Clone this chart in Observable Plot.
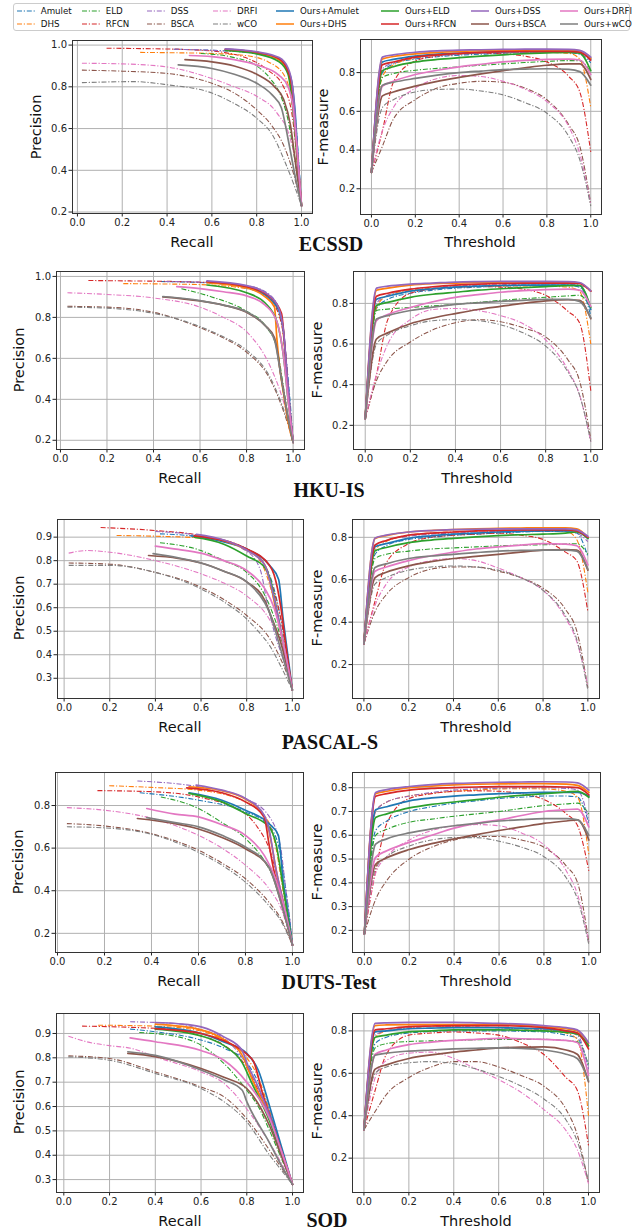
<!DOCTYPE html>
<html><head><meta charset="utf-8">
<script src="https://cdn.jsdelivr.net/npm/d3@7"></script>
<script src="https://cdn.jsdelivr.net/npm/@observablehq/plot@0.6"></script>
<style>
body{margin:0;background:#fff;}
#fig{position:relative;width:635px;height:1230px;overflow:hidden;font-family:"DejaVu Sans",sans-serif;background:#fff;}
.lab{position:absolute;font-size:14.5px;color:#111;white-space:nowrap;transform:translate(-50%,-50%);line-height:1;}
.rot{transform:translate(-50%,-50%) rotate(-90deg);}
.title{position:absolute;font-family:"Liberation Serif","Times New Roman",serif;font-weight:bold;font-size:20px;color:#111;transform:translate(-50%,-50%);white-space:nowrap;line-height:1;}
.legend{position:absolute;left:13px;top:3px;width:617px;height:28px;border:1px solid #ccc;border-radius:3px;box-sizing:border-box;}
.lg{position:absolute;font-size:8.7px;color:#111;white-space:nowrap;line-height:1;transform:translateY(-50%);}
</style></head><body><div id="fig"></div>
<script>
// ---------- data ----------
const methods = ["Amulet","DHS","ELD","RFCN","DSS","BSCA","DRFI","wCO"];
const colors = ["#1f77b4","#ff7f0e","#2ca02c","#d62728","#9467bd","#8c564b","#e377c2","#7f7f7f"];
const datasets = ["ECSSD","HKU-IS","PASCAL-S","DUTS-Test","SOD"];
const thresholds = [0,0.05,0.1,0.2,0.3,0.4,0.5,0.6,0.7,0.8,0.9,0.95,1];
const xTicks = [0,0.2,0.4,0.6,0.8,1.0];
const prYTicks = [[0.2,0.4,0.6,0.8,1.0],[0.2,0.4,0.6,0.8,1.0],[0.3,0.4,0.5,0.6,0.7,0.8,0.9],[0.2,0.4,0.6,0.8],[0.3,0.4,0.5,0.6,0.7,0.8,0.9]];
const fYTicks = [[0.2,0.4,0.6,0.8],[0.2,0.4,0.6,0.8],[0.2,0.4,0.6,0.8],[0.2,0.3,0.4,0.5,0.6,0.7,0.8],[0.2,0.4,0.6,0.8]];

// F-measure vs threshold (values at `thresholds`)
const F_ECSSD = {
 "Amulet":[0.285,0.80,0.845,0.87,0.882,0.89,0.895,0.90,0.903,0.905,0.903,0.895,0.85],
 "DHS":[0.285,0.78,0.84,0.875,0.89,0.897,0.902,0.905,0.906,0.905,0.9,0.87,0.62],
 "ELD":[0.285,0.775,0.795,0.812,0.822,0.83,0.838,0.845,0.852,0.858,0.862,0.862,0.80],
 "RFCN":[0.285,0.50,0.75,0.86,0.885,0.895,0.90,0.897,0.885,0.855,0.78,0.70,0.39],
 "DSS":[0.285,0.82,0.85,0.877,0.888,0.895,0.9,0.903,0.905,0.906,0.905,0.9,0.86],
 "BSCA":[0.285,0.42,0.56,0.66,0.72,0.745,0.755,0.75,0.72,0.66,0.53,0.42,0.12],
 "DRFI":[0.285,0.50,0.62,0.72,0.77,0.785,0.78,0.755,0.715,0.65,0.52,0.38,0.12],
 "wCO":[0.285,0.62,0.66,0.70,0.713,0.715,0.705,0.685,0.645,0.59,0.47,0.35,0.11],
 "Ours+Amulet":[0.285,0.855,0.868,0.885,0.895,0.90,0.904,0.907,0.909,0.91,0.91,0.905,0.87],
 "Ours+DHS":[0.285,0.87,0.883,0.897,0.905,0.91,0.913,0.915,0.916,0.917,0.917,0.912,0.875],
 "Ours+ELD":[0.285,0.81,0.83,0.855,0.868,0.877,0.885,0.892,0.898,0.902,0.905,0.90,0.81],
 "Ours+RFCN":[0.285,0.84,0.855,0.88,0.892,0.90,0.905,0.908,0.91,0.91,0.91,0.905,0.865],
 "Ours+DSS":[0.285,0.88,0.892,0.905,0.912,0.916,0.918,0.92,0.921,0.921,0.92,0.915,0.88],
 "Ours+BSCA":[0.285,0.68,0.70,0.73,0.755,0.775,0.793,0.81,0.825,0.838,0.845,0.845,0.765],
 "Ours+DRFI":[0.285,0.73,0.755,0.79,0.812,0.83,0.843,0.855,0.863,0.868,0.87,0.865,0.79],
 "Ours+wCO":[0.285,0.735,0.75,0.77,0.787,0.80,0.808,0.815,0.818,0.82,0.817,0.805,0.735]
};
const F_HKUIS = {
 "Amulet":[0.233,0.775,0.82,0.85,0.865,0.875,0.88,0.885,0.888,0.89,0.888,0.88,0.74],
 "DHS":[0.233,0.78,0.84,0.865,0.875,0.88,0.883,0.885,0.886,0.885,0.88,0.86,0.60],
 "ELD":[0.233,0.765,0.772,0.78,0.788,0.795,0.805,0.815,0.823,0.83,0.837,0.84,0.78],
 "RFCN":[0.233,0.45,0.72,0.85,0.87,0.88,0.883,0.88,0.87,0.84,0.76,0.705,0.37],
 "DSS":[0.233,0.80,0.84,0.87,0.88,0.885,0.89,0.892,0.894,0.895,0.893,0.89,0.86],
 "BSCA":[0.233,0.42,0.52,0.61,0.67,0.705,0.72,0.71,0.68,0.635,0.52,0.42,0.13],
 "DRFI":[0.233,0.45,0.60,0.72,0.77,0.775,0.765,0.74,0.70,0.62,0.47,0.35,0.12],
 "wCO":[0.233,0.60,0.645,0.69,0.715,0.72,0.715,0.695,0.655,0.59,0.46,0.35,0.12],
 "Ours+Amulet":[0.233,0.82,0.835,0.86,0.872,0.88,0.885,0.888,0.89,0.89,0.89,0.888,0.77],
 "Ours+DHS":[0.233,0.865,0.875,0.89,0.897,0.90,0.903,0.905,0.906,0.906,0.905,0.90,0.86],
 "Ours+ELD":[0.233,0.79,0.805,0.83,0.845,0.855,0.865,0.872,0.878,0.883,0.887,0.888,0.78],
 "Ours+RFCN":[0.233,0.835,0.85,0.87,0.882,0.89,0.895,0.898,0.9,0.9,0.9,0.898,0.86],
 "Ours+DSS":[0.233,0.875,0.885,0.895,0.9,0.905,0.907,0.908,0.908,0.908,0.907,0.903,0.862],
 "Ours+BSCA":[0.233,0.625,0.655,0.70,0.728,0.75,0.77,0.785,0.80,0.812,0.818,0.815,0.725],
 "Ours+DRFI":[0.233,0.715,0.745,0.78,0.808,0.83,0.843,0.855,0.863,0.868,0.87,0.865,0.785],
 "Ours+wCO":[0.233,0.723,0.74,0.765,0.782,0.795,0.803,0.81,0.815,0.82,0.82,0.81,0.73]
};
const F_PASCAL = {
 "Amulet":[0.298,0.72,0.76,0.79,0.80,0.81,0.815,0.82,0.825,0.828,0.828,0.82,0.71],
 "DHS":[0.298,0.74,0.78,0.81,0.82,0.825,0.828,0.83,0.833,0.835,0.83,0.79,0.54],
 "ELD":[0.298,0.70,0.72,0.735,0.745,0.75,0.755,0.76,0.763,0.765,0.768,0.77,0.72],
 "RFCN":[0.298,0.50,0.68,0.77,0.80,0.81,0.815,0.82,0.81,0.79,0.73,0.69,0.45],
 "DSS":[0.298,0.76,0.785,0.805,0.815,0.82,0.825,0.828,0.83,0.83,0.828,0.82,0.78],
 "BSCA":[0.298,0.45,0.53,0.61,0.65,0.66,0.66,0.64,0.61,0.56,0.46,0.36,0.09],
 "DRFI":[0.298,0.48,0.58,0.66,0.69,0.70,0.69,0.655,0.61,0.55,0.42,0.31,0.10],
 "wCO":[0.298,0.58,0.61,0.645,0.66,0.665,0.66,0.645,0.61,0.55,0.43,0.32,0.08],
 "Ours+Amulet":[0.298,0.755,0.77,0.795,0.807,0.815,0.82,0.825,0.828,0.83,0.83,0.83,0.795],
 "Ours+DHS":[0.298,0.795,0.808,0.825,0.832,0.836,0.84,0.842,0.844,0.845,0.845,0.84,0.80],
 "Ours+ELD":[0.298,0.737,0.752,0.775,0.787,0.795,0.802,0.808,0.812,0.815,0.82,0.825,0.795],
 "Ours+RFCN":[0.298,0.764,0.785,0.81,0.82,0.825,0.83,0.833,0.835,0.835,0.835,0.83,0.80],
 "Ours+DSS":[0.298,0.797,0.81,0.825,0.832,0.836,0.838,0.84,0.84,0.84,0.84,0.835,0.805],
 "Ours+BSCA":[0.298,0.61,0.635,0.665,0.685,0.70,0.71,0.72,0.73,0.74,0.742,0.74,0.645],
 "Ours+DRFI":[0.298,0.64,0.66,0.69,0.713,0.73,0.745,0.755,0.763,0.77,0.768,0.76,0.67],
 "Ours+wCO":[0.298,0.658,0.675,0.70,0.712,0.72,0.728,0.735,0.738,0.74,0.74,0.735,0.65]
};
const F_DUTS = {
 "Amulet":[0.185,0.62,0.66,0.70,0.72,0.735,0.745,0.755,0.76,0.765,0.765,0.76,0.65],
 "DHS":[0.185,0.70,0.74,0.765,0.777,0.785,0.79,0.795,0.796,0.795,0.785,0.76,0.52],
 "ELD":[0.185,0.60,0.625,0.655,0.668,0.68,0.69,0.70,0.713,0.725,0.732,0.735,0.69],
 "RFCN":[0.185,0.45,0.65,0.755,0.775,0.785,0.787,0.785,0.775,0.75,0.69,0.64,0.45],
 "DSS":[0.185,0.70,0.74,0.765,0.78,0.79,0.795,0.798,0.80,0.80,0.797,0.79,0.66],
 "BSCA":[0.185,0.33,0.41,0.50,0.55,0.58,0.595,0.595,0.58,0.55,0.47,0.40,0.15],
 "DRFI":[0.185,0.44,0.51,0.58,0.62,0.64,0.645,0.64,0.61,0.56,0.45,0.35,0.15],
 "wCO":[0.185,0.46,0.51,0.555,0.58,0.59,0.59,0.575,0.55,0.51,0.42,0.33,0.14],
 "Ours+Amulet":[0.185,0.707,0.72,0.745,0.757,0.765,0.77,0.775,0.778,0.78,0.78,0.78,0.765],
 "Ours+DHS":[0.185,0.775,0.785,0.80,0.807,0.812,0.815,0.816,0.817,0.817,0.815,0.81,0.78],
 "Ours+ELD":[0.185,0.675,0.69,0.715,0.73,0.74,0.75,0.76,0.768,0.775,0.782,0.785,0.76],
 "Ours+RFCN":[0.185,0.764,0.775,0.79,0.797,0.80,0.803,0.805,0.805,0.805,0.803,0.80,0.77],
 "Ours+DSS":[0.185,0.78,0.792,0.805,0.813,0.818,0.821,0.823,0.824,0.825,0.824,0.82,0.79],
 "Ours+BSCA":[0.185,0.478,0.505,0.54,0.565,0.585,0.603,0.62,0.635,0.65,0.66,0.665,0.58],
 "Ours+DRFI":[0.185,0.507,0.535,0.57,0.60,0.63,0.65,0.665,0.683,0.70,0.708,0.71,0.635],
 "Ours+wCO":[0.185,0.563,0.585,0.61,0.627,0.64,0.65,0.66,0.666,0.67,0.67,0.665,0.60]
};
const F_SOD = {
 "Amulet":[0.334,0.74,0.77,0.79,0.797,0.80,0.80,0.80,0.798,0.795,0.78,0.765,0.63],
 "DHS":[0.334,0.77,0.80,0.815,0.82,0.82,0.818,0.815,0.81,0.805,0.79,0.76,0.40],
 "ELD":[0.334,0.72,0.74,0.75,0.753,0.755,0.758,0.76,0.76,0.76,0.755,0.75,0.64],
 "RFCN":[0.334,0.52,0.69,0.78,0.79,0.795,0.79,0.78,0.745,0.69,0.58,0.52,0.26],
 "DSS":[0.334,0.78,0.80,0.815,0.82,0.82,0.818,0.815,0.81,0.805,0.795,0.78,0.62],
 "BSCA":[0.334,0.42,0.50,0.58,0.63,0.655,0.655,0.63,0.59,0.54,0.43,0.31,0.08],
 "DRFI":[0.334,0.58,0.66,0.695,0.70,0.67,0.62,0.57,0.51,0.43,0.33,0.24,0.08],
 "wCO":[0.334,0.60,0.63,0.65,0.655,0.645,0.62,0.585,0.54,0.48,0.38,0.28,0.09],
 "Ours+Amulet":[0.334,0.795,0.80,0.81,0.813,0.815,0.815,0.815,0.813,0.81,0.80,0.79,0.73],
 "Ours+DHS":[0.334,0.825,0.828,0.83,0.83,0.83,0.83,0.83,0.827,0.82,0.81,0.80,0.74],
 "Ours+ELD":[0.334,0.77,0.78,0.795,0.80,0.805,0.805,0.805,0.803,0.80,0.793,0.785,0.73],
 "Ours+RFCN":[0.334,0.805,0.81,0.82,0.823,0.825,0.825,0.825,0.822,0.815,0.80,0.79,0.715],
 "Ours+DSS":[0.334,0.835,0.838,0.84,0.84,0.84,0.838,0.835,0.832,0.825,0.815,0.805,0.745],
 "Ours+BSCA":[0.334,0.62,0.64,0.67,0.687,0.70,0.71,0.72,0.723,0.725,0.71,0.69,0.56],
 "Ours+DRFI":[0.334,0.69,0.71,0.735,0.747,0.755,0.76,0.765,0.763,0.76,0.755,0.745,0.59],
 "Ours+wCO":[0.334,0.685,0.695,0.705,0.71,0.715,0.718,0.72,0.717,0.71,0.69,0.67,0.565]
};

// Precision-recall curves: [recall, precision]
const PR_ECSSD = {
 "Amulet":[[0.43,0.98],[0.6,0.975],[0.8,0.96],[0.9,0.925],[0.95,0.84],[0.97,0.68],[0.99,0.4],[1.0,0.23]],
 "DHS":[[0.28,0.965],[0.45,0.963],[0.6,0.96],[0.75,0.95],[0.85,0.92],[0.92,0.86],[0.96,0.7],[0.98,0.45],[1.0,0.23]],
 "ELD":[[0.55,0.96],[0.7,0.94],[0.8,0.9],[0.86,0.84],[0.91,0.75],[0.94,0.64],[0.97,0.45],[1.0,0.23]],
 "RFCN":[[0.13,0.985],[0.3,0.983],[0.5,0.978],[0.65,0.965],[0.75,0.94],[0.85,0.88],[0.92,0.8],[0.96,0.65],[0.98,0.45],[1.0,0.23]],
 "DSS":[[0.43,0.98],[0.6,0.975],[0.8,0.96],[0.9,0.93],[0.94,0.87],[0.96,0.75],[0.98,0.5],[1.0,0.23]],
 "BSCA":[[0.02,0.88],[0.2,0.875],[0.4,0.864],[0.6,0.817],[0.7,0.77],[0.8,0.69],[0.87,0.61],[0.92,0.52],[0.96,0.4],[1.0,0.23]],
 "DRFI":[[0.02,0.913],[0.2,0.91],[0.4,0.895],[0.6,0.84],[0.7,0.8],[0.8,0.755],[0.89,0.675],[0.95,0.55],[0.98,0.4],[1.0,0.23]],
 "wCO":[[0.02,0.82],[0.25,0.825],[0.4,0.81],[0.6,0.77],[0.7,0.72],[0.8,0.65],[0.87,0.57],[0.93,0.43],[0.97,0.32],[1.0,0.23]],
 "Ours+Amulet":[[0.66,0.98],[0.8,0.965],[0.9,0.935],[0.94,0.88],[0.96,0.8],[0.97,0.7],[0.985,0.45],[1.0,0.23]],
 "Ours+DHS":[[0.66,0.978],[0.8,0.963],[0.9,0.93],[0.94,0.87],[0.955,0.78],[0.97,0.62],[0.985,0.42],[1.0,0.23]],
 "Ours+ELD":[[0.66,0.975],[0.8,0.958],[0.9,0.92],[0.94,0.86],[0.955,0.76],[0.97,0.6],[0.985,0.4],[1.0,0.23]],
 "Ours+RFCN":[[0.66,0.98],[0.8,0.965],[0.9,0.935],[0.94,0.875],[0.96,0.78],[0.97,0.65],[0.985,0.42],[1.0,0.23]],
 "Ours+DSS":[[0.66,0.982],[0.8,0.968],[0.9,0.94],[0.94,0.89],[0.96,0.8],[0.975,0.6],[0.99,0.35],[1.0,0.23]],
 "Ours+BSCA":[[0.48,0.93],[0.6,0.92],[0.7,0.9],[0.8,0.86],[0.88,0.8],[0.92,0.74],[0.95,0.62],[0.975,0.42],[1.0,0.23]],
 "Ours+DRFI":[[0.5,0.95],[0.6,0.945],[0.7,0.93],[0.8,0.905],[0.9,0.855],[0.94,0.8],[0.96,0.72],[0.98,0.5],[1.0,0.23]],
 "Ours+wCO":[[0.45,0.905],[0.6,0.888],[0.7,0.86],[0.8,0.817],[0.87,0.76],[0.91,0.70],[0.94,0.55],[0.97,0.38],[1.0,0.23]]
};
const PR_HKUIS = {
 "Amulet":[[0.43,0.975],[0.6,0.97],[0.8,0.95],[0.9,0.9],[0.95,0.8],[0.97,0.6],[0.99,0.35],[1.0,0.19]],
 "DHS":[[0.27,0.965],[0.45,0.963],[0.6,0.96],[0.8,0.94],[0.9,0.89],[0.95,0.78],[0.97,0.55],[0.99,0.32],[1.0,0.19]],
 "ELD":[[0.52,0.94],[0.65,0.9],[0.8,0.83],[0.88,0.76],[0.93,0.65],[0.96,0.45],[0.98,0.3],[1.0,0.19]],
 "RFCN":[[0.12,0.98],[0.3,0.978],[0.5,0.975],[0.7,0.965],[0.85,0.93],[0.92,0.86],[0.96,0.7],[0.98,0.4],[1.0,0.19]],
 "DSS":[[0.45,0.975],[0.6,0.972],[0.8,0.955],[0.9,0.91],[0.95,0.8],[0.97,0.6],[0.99,0.32],[1.0,0.19]],
 "BSCA":[[0.03,0.854],[0.2,0.85],[0.4,0.825],[0.6,0.75],[0.7,0.7],[0.8,0.63],[0.9,0.5],[0.95,0.37],[0.98,0.27],[1.0,0.19]],
 "DRFI":[[0.03,0.92],[0.2,0.912],[0.4,0.895],[0.6,0.85],[0.7,0.8],[0.8,0.73],[0.9,0.565],[0.95,0.42],[0.98,0.3],[1.0,0.19]],
 "wCO":[[0.03,0.85],[0.2,0.845],[0.4,0.82],[0.6,0.755],[0.7,0.705],[0.8,0.64],[0.9,0.51],[0.95,0.38],[0.98,0.28],[1.0,0.19]],
 "Ours+Amulet":[[0.63,0.972],[0.8,0.945],[0.9,0.89],[0.94,0.83],[0.96,0.72],[0.975,0.5],[0.99,0.3],[1.0,0.19]],
 "Ours+DHS":[[0.63,0.97],[0.8,0.945],[0.88,0.9],[0.92,0.85],[0.93,0.7],[0.94,0.58],[0.96,0.42],[0.98,0.28],[1.0,0.19]],
 "Ours+ELD":[[0.63,0.958],[0.8,0.92],[0.88,0.87],[0.93,0.78],[0.96,0.6],[0.98,0.38],[1.0,0.19]],
 "Ours+RFCN":[[0.63,0.975],[0.8,0.95],[0.9,0.9],[0.95,0.82],[0.965,0.65],[0.98,0.42],[1.0,0.19]],
 "Ours+DSS":[[0.63,0.978],[0.8,0.955],[0.9,0.905],[0.94,0.84],[0.96,0.72],[0.975,0.5],[0.99,0.3],[1.0,0.19]],
 "Ours+BSCA":[[0.44,0.9],[0.6,0.88],[0.7,0.86],[0.8,0.825],[0.88,0.76],[0.92,0.7],[0.95,0.5],[0.98,0.3],[1.0,0.19]],
 "Ours+DRFI":[[0.5,0.95],[0.6,0.94],[0.7,0.925],[0.8,0.905],[0.88,0.86],[0.93,0.78],[0.96,0.6],[0.98,0.38],[1.0,0.19]],
 "Ours+wCO":[[0.44,0.902],[0.6,0.882],[0.7,0.86],[0.8,0.827],[0.88,0.76],[0.92,0.69],[0.95,0.5],[0.98,0.3],[1.0,0.19]]
};
const PR_PASCAL = {
 "Amulet":[[0.42,0.914],[0.6,0.9],[0.8,0.85],[0.88,0.78],[0.92,0.68],[0.95,0.55],[0.98,0.38],[1.0,0.25]],
 "DHS":[[0.23,0.907],[0.4,0.904],[0.6,0.896],[0.8,0.85],[0.87,0.78],[0.9,0.7],[0.94,0.55],[0.97,0.4],[1.0,0.25]],
 "ELD":[[0.42,0.876],[0.6,0.843],[0.7,0.8],[0.8,0.75],[0.87,0.67],[0.9,0.61],[0.95,0.47],[0.98,0.35],[1.0,0.25]],
 "RFCN":[[0.16,0.941],[0.4,0.928],[0.6,0.907],[0.8,0.85],[0.88,0.78],[0.91,0.7],[0.95,0.55],[0.98,0.38],[1.0,0.25]],
 "DSS":[[0.4,0.924],[0.6,0.905],[0.8,0.84],[0.86,0.76],[0.89,0.62],[0.92,0.5],[0.96,0.38],[1.0,0.25]],
 "BSCA":[[0.02,0.79],[0.2,0.785],[0.4,0.75],[0.6,0.687],[0.7,0.635],[0.8,0.567],[0.9,0.47],[0.95,0.38],[0.98,0.31],[1.0,0.25]],
 "DRFI":[[0.02,0.832],[0.1,0.843],[0.2,0.836],[0.4,0.8],[0.6,0.744],[0.7,0.705],[0.8,0.65],[0.9,0.55],[0.95,0.45],[0.98,0.33],[1.0,0.25]],
 "wCO":[[0.02,0.78],[0.2,0.78],[0.4,0.75],[0.6,0.68],[0.7,0.625],[0.8,0.552],[0.85,0.5],[0.9,0.44],[0.95,0.35],[1.0,0.25]],
 "Ours+Amulet":[[0.56,0.905],[0.7,0.88],[0.8,0.85],[0.9,0.78],[0.94,0.72],[0.96,0.55],[0.98,0.4],[1.0,0.25]],
 "Ours+DHS":[[0.58,0.91],[0.7,0.885],[0.8,0.845],[0.88,0.78],[0.9,0.72],[0.93,0.58],[0.96,0.45],[1.0,0.25]],
 "Ours+ELD":[[0.57,0.9],[0.7,0.87],[0.8,0.82],[0.88,0.77],[0.9,0.73],[0.93,0.6],[0.96,0.45],[1.0,0.25]],
 "Ours+RFCN":[[0.57,0.905],[0.7,0.885],[0.8,0.85],[0.9,0.78],[0.92,0.74],[0.95,0.6],[0.97,0.45],[1.0,0.25]],
 "Ours+DSS":[[0.58,0.912],[0.7,0.888],[0.8,0.845],[0.88,0.78],[0.9,0.72],[0.94,0.55],[0.97,0.4],[1.0,0.25]],
 "Ours+BSCA":[[0.37,0.822],[0.5,0.81],[0.6,0.79],[0.7,0.755],[0.8,0.71],[0.88,0.63],[0.9,0.58],[0.95,0.45],[1.0,0.25]],
 "Ours+DRFI":[[0.4,0.862],[0.5,0.848],[0.6,0.832],[0.7,0.8],[0.8,0.758],[0.88,0.68],[0.92,0.6],[0.96,0.45],[1.0,0.25]],
 "Ours+wCO":[[0.39,0.83],[0.5,0.812],[0.6,0.79],[0.7,0.755],[0.8,0.71],[0.88,0.62],[0.9,0.58],[0.95,0.42],[1.0,0.25]]
};
const PR_DUTS = {
 "Amulet":[[0.35,0.86],[0.6,0.825],[0.8,0.77],[0.9,0.707],[0.95,0.566],[0.97,0.42],[0.99,0.25],[1.0,0.145]],
 "DHS":[[0.22,0.893],[0.4,0.885],[0.6,0.872],[0.8,0.817],[0.9,0.72],[0.93,0.6],[0.96,0.4],[0.99,0.22],[1.0,0.145]],
 "ELD":[[0.44,0.84],[0.6,0.786],[0.7,0.72],[0.8,0.645],[0.9,0.503],[0.95,0.38],[0.98,0.25],[1.0,0.145]],
 "RFCN":[[0.17,0.87],[0.4,0.865],[0.6,0.84],[0.8,0.76],[0.85,0.7],[0.9,0.6],[0.95,0.4],[0.98,0.25],[1.0,0.145]],
 "DSS":[[0.34,0.915],[0.6,0.888],[0.8,0.833],[0.9,0.75],[0.95,0.6],[0.97,0.42],[0.99,0.25],[1.0,0.145]],
 "BSCA":[[0.04,0.715],[0.2,0.704],[0.4,0.668],[0.6,0.59],[0.7,0.53],[0.8,0.456],[0.9,0.346],[0.95,0.27],[1.0,0.145]],
 "DRFI":[[0.04,0.79],[0.2,0.778],[0.4,0.74],[0.6,0.66],[0.7,0.6],[0.8,0.52],[0.9,0.41],[0.95,0.32],[1.0,0.145]],
 "wCO":[[0.04,0.70],[0.2,0.695],[0.4,0.665],[0.6,0.58],[0.7,0.52],[0.8,0.44],[0.9,0.33],[0.95,0.26],[1.0,0.145]],
 "Ours+Amulet":[[0.56,0.86],[0.7,0.825],[0.8,0.778],[0.9,0.715],[0.94,0.66],[0.96,0.45],[0.98,0.3],[1.0,0.145]],
 "Ours+DHS":[[0.56,0.888],[0.7,0.87],[0.8,0.83],[0.88,0.75],[0.9,0.68],[0.93,0.5],[0.97,0.3],[1.0,0.145]],
 "Ours+ELD":[[0.56,0.857],[0.7,0.817],[0.8,0.762],[0.9,0.7],[0.93,0.62],[0.96,0.42],[0.98,0.28],[1.0,0.145]],
 "Ours+RFCN":[[0.55,0.883],[0.7,0.86],[0.8,0.817],[0.88,0.745],[0.9,0.62],[0.92,0.5],[0.95,0.38],[0.98,0.24],[1.0,0.145]],
 "Ours+DSS":[[0.59,0.896],[0.7,0.872],[0.8,0.833],[0.88,0.754],[0.9,0.69],[0.93,0.5],[0.96,0.35],[1.0,0.145]],
 "Ours+BSCA":[[0.34,0.739],[0.5,0.715],[0.6,0.69],[0.7,0.65],[0.8,0.597],[0.9,0.51],[0.95,0.35],[0.98,0.23],[1.0,0.145]],
 "Ours+DRFI":[[0.38,0.786],[0.5,0.76],[0.6,0.747],[0.7,0.71],[0.8,0.66],[0.88,0.566],[0.93,0.45],[0.97,0.3],[1.0,0.145]],
 "Ours+wCO":[[0.38,0.743],[0.5,0.72],[0.6,0.70],[0.7,0.66],[0.8,0.605],[0.9,0.51],[0.95,0.35],[0.98,0.23],[1.0,0.145]]
};
const PR_SOD = {
 "Amulet":[[0.29,0.918],[0.4,0.907],[0.6,0.873],[0.7,0.84],[0.8,0.78],[0.85,0.7],[0.9,0.58],[0.95,0.43],[1.0,0.28]],
 "DHS":[[0.15,0.934],[0.4,0.93],[0.6,0.91],[0.7,0.87],[0.8,0.8],[0.85,0.72],[0.9,0.58],[0.95,0.43],[1.0,0.28]],
 "ELD":[[0.33,0.904],[0.5,0.886],[0.6,0.852],[0.7,0.777],[0.8,0.667],[0.85,0.6],[0.9,0.5],[0.95,0.39],[1.0,0.28]],
 "RFCN":[[0.08,0.93],[0.3,0.925],[0.5,0.914],[0.6,0.89],[0.7,0.852],[0.8,0.76],[0.9,0.55],[0.95,0.42],[1.0,0.28]],
 "DSS":[[0.29,0.948],[0.5,0.94],[0.6,0.915],[0.7,0.88],[0.78,0.8],[0.85,0.68],[0.9,0.57],[0.95,0.43],[1.0,0.28]],
 "BSCA":[[0.02,0.808],[0.2,0.797],[0.4,0.742],[0.6,0.68],[0.7,0.64],[0.8,0.55],[0.9,0.42],[0.95,0.35],[1.0,0.28]],
 "DRFI":[[0.02,0.889],[0.1,0.866],[0.2,0.85],[0.3,0.838],[0.4,0.804],[0.6,0.742],[0.7,0.695],[0.8,0.59],[0.9,0.45],[0.95,0.37],[1.0,0.28]],
 "wCO":[[0.02,0.804],[0.2,0.79],[0.4,0.736],[0.6,0.674],[0.7,0.62],[0.8,0.537],[0.9,0.40],[0.95,0.34],[1.0,0.28]],
 "Ours+Amulet":[[0.4,0.927],[0.6,0.9],[0.7,0.865],[0.8,0.818],[0.85,0.75],[0.9,0.6],[0.95,0.44],[1.0,0.28]],
 "Ours+DHS":[[0.4,0.938],[0.6,0.915],[0.7,0.875],[0.78,0.81],[0.82,0.72],[0.9,0.55],[0.95,0.42],[1.0,0.28]],
 "Ours+ELD":[[0.4,0.918],[0.6,0.89],[0.7,0.85],[0.78,0.78],[0.82,0.7],[0.9,0.54],[0.95,0.41],[1.0,0.28]],
 "Ours+RFCN":[[0.4,0.92],[0.6,0.9],[0.7,0.87],[0.8,0.815],[0.83,0.784],[0.87,0.65],[0.93,0.48],[1.0,0.28]],
 "Ours+DSS":[[0.4,0.945],[0.5,0.94],[0.6,0.927],[0.7,0.886],[0.78,0.83],[0.8,0.78],[0.85,0.68],[0.9,0.56],[0.95,0.42],[1.0,0.28]],
 "Ours+BSCA":[[0.28,0.818],[0.4,0.805],[0.6,0.756],[0.7,0.72],[0.8,0.674],[0.9,0.52],[0.95,0.4],[1.0,0.28]],
 "Ours+DRFI":[[0.29,0.882],[0.4,0.866],[0.6,0.83],[0.7,0.79],[0.8,0.7],[0.9,0.55],[0.95,0.42],[1.0,0.28]],
 "Ours+wCO":[[0.28,0.825],[0.4,0.81],[0.6,0.75],[0.7,0.71],[0.78,0.667],[0.8,0.62],[0.9,0.45],[0.95,0.36],[1.0,0.28]]
};
const F_ALL = [F_ECSSD, F_HKUIS, F_PASCAL, F_DUTS, F_SOD];
const PR_ALL = [PR_ECSSD, PR_HKUIS, PR_PASCAL, PR_DUTS, PR_SOD];

// ---------- layout (frame boxes in page pixels, axis domains) ----------
const layout = [
 {pr:[72,40,312,213], prx:[-0.022,1.049], pry:[0.193,1.022], f:[360,39,601,214], fx:[-0.050,1.049], fy:[0.067,0.971],
  rec:[192,242], prec:[36,127], thr:[480,242], fm:[323,127], title:[331,244]},
 {pr:[56,271,304,449], prx:[-0.017,1.049], pry:[0.155,1.024], f:[353,271,602,449], fx:[-0.052,1.052], fy:[0.081,0.957],
  rec:[180,478], prec:[19,360], thr:[477,478], fm:[317,360], title:[329,490]},
 {pr:[57,519,303,698], prx:[-0.029,1.049], pry:[0.214,0.975], f:[352,519,599,698], fx:[-0.051,1.052], fy:[0.040,0.884],
  rec:[180,727], prec:[19,608], thr:[476,727], fm:[317,608], title:[330,742]},
 {pr:[55,772,303,952], prx:[-0.0085,1.047], pry:[0.110,0.955], f:[352,772,600,952], fx:[-0.053,1.052], fy:[0.107,0.864],
  rec:[179,981], prec:[18,862], thr:[476,981], fm:[317,862], title:[329,982]},
 {pr:[56,1013,303,1192], prx:[-0.032,1.048], pry:[0.247,0.982], f:[352,1013,599,1192], fx:[-0.051,1.049], fy:[0.038,0.882],
  rec:[180,1221], prec:[19,1102], thr:[476,1221], fm:[317,1101], title:[327,1220]}
];

const fig = document.getElementById("fig");
const allSeries = [...methods, ...methods.map(m => "Ours+" + m)];
const DASH = "5,1.8,1.2,1.8";

function seriesMarks(getPts) {
  return allSeries.map((s, i) => {
    const ours = i >= 8;
    const opts = {x: d => d[0], y: d => d[1], stroke: colors[i % 8], strokeWidth: ours ? 1.7 : 1.1,
      curve: "monotone-x", clip: true};
    if (!ours) { opts.strokeDasharray = DASH; opts.strokeLinecap = "butt"; }
    return Plot.line(getPts(s), opts);
  });
}

function place(box, xd, yd, yt, marks) {
  const [L, T, R, B] = box;
  const mL = 38, mR = 6, mT = 6, mB = 22;
  const svg = Plot.plot({
    width: (R - L) + mL + mR, height: (B - T) + mT + mB,
    marginLeft: mL, marginRight: mR, marginTop: mT, marginBottom: mB,
    x: {domain: xd}, y: {domain: yd},
    style: {fontFamily: "DejaVu Sans, sans-serif", fontSize: "10px", color: "#222", background: "transparent", overflow: "visible"},
    marks: [
      Plot.ruleX(xTicks, {x: d => d, stroke: "#b0b0b0", strokeWidth: 1}),
      Plot.ruleY(yt, {y: d => d, stroke: "#b0b0b0", strokeWidth: 1}),
      ...marks,
      Plot.axisX({ticks: xTicks, tickFormat: d => d.toFixed(1), tickSize: 3.5, tickPadding: 2, label: null}),
      Plot.axisY({ticks: yt, tickFormat: d => d.toFixed(1), tickSize: 3.5, tickPadding: 2, label: null}),
      Plot.frame({stroke: "#333", strokeWidth: 1})
    ]
  });
  svg.style.position = "absolute";
  svg.style.left = (L - mL) + "px";
  svg.style.top = (T - mT) + "px";
  fig.appendChild(svg);
}

function text(cls, txt, xy) {
  const d = document.createElement("div");
  d.className = cls; d.textContent = txt;
  d.style.left = xy[0] + "px"; d.style.top = xy[1] + "px";
  fig.appendChild(d);
}

layout.forEach((lo, k) => {
  const F = F_ALL[k], PR = PR_ALL[k];
  place(lo.pr, lo.prx, lo.pry, prYTicks[k], seriesMarks(s => PR[s]));
  place(lo.f, lo.fx, lo.fy, fYTicks[k], seriesMarks(s => thresholds.map((t, j) => [t, F[s][j]])));
  text("lab", "Recall", lo.rec);
  text("lab rot", "Precision", lo.prec);
  text("lab", "Threshold", lo.thr);
  text("lab rot", "F-measure", lo.fm);
  text("title", datasets[k], lo.title);
});

// ---------- legend ----------
const leg = document.createElement("div");
leg.className = "legend";
fig.appendChild(leg);
const colLine = [16.7, 81.7, 146.7, 213, 276, 381, 471, 560];
const rowY = [11, 24];
allSeries.forEach((s, i) => {
  const ours = i >= 8;
  const m = i % 8;
  const col = (ours ? 4 : 0) + Math.floor(m / 2);
  const row = m % 2;
  const x = colLine[col], y = rowY[row];
  const ns = "http://www.w3.org/2000/svg";
  const sv = document.createElementNS(ns, "svg");
  sv.setAttribute("width", 20); sv.setAttribute("height", 6);
  sv.style.position = "absolute"; sv.style.left = x + "px"; sv.style.top = (y - 3) + "px";
  const ln = document.createElementNS(ns, "line");
  ln.setAttribute("x1", 0); ln.setAttribute("x2", 18); ln.setAttribute("y1", 3); ln.setAttribute("y2", 3);
  ln.setAttribute("stroke", colors[m]); ln.setAttribute("stroke-width", ours ? 1.5 : 1.1);
  if (!ours) ln.setAttribute("stroke-dasharray", DASH);
  sv.appendChild(ln); fig.appendChild(sv);
  const t = document.createElement("div");
  t.className = "lg"; t.textContent = s;
  t.style.left = (x + 24) + "px"; t.style.top = y + "px";
  fig.appendChild(t);
});
</script></body></html>
